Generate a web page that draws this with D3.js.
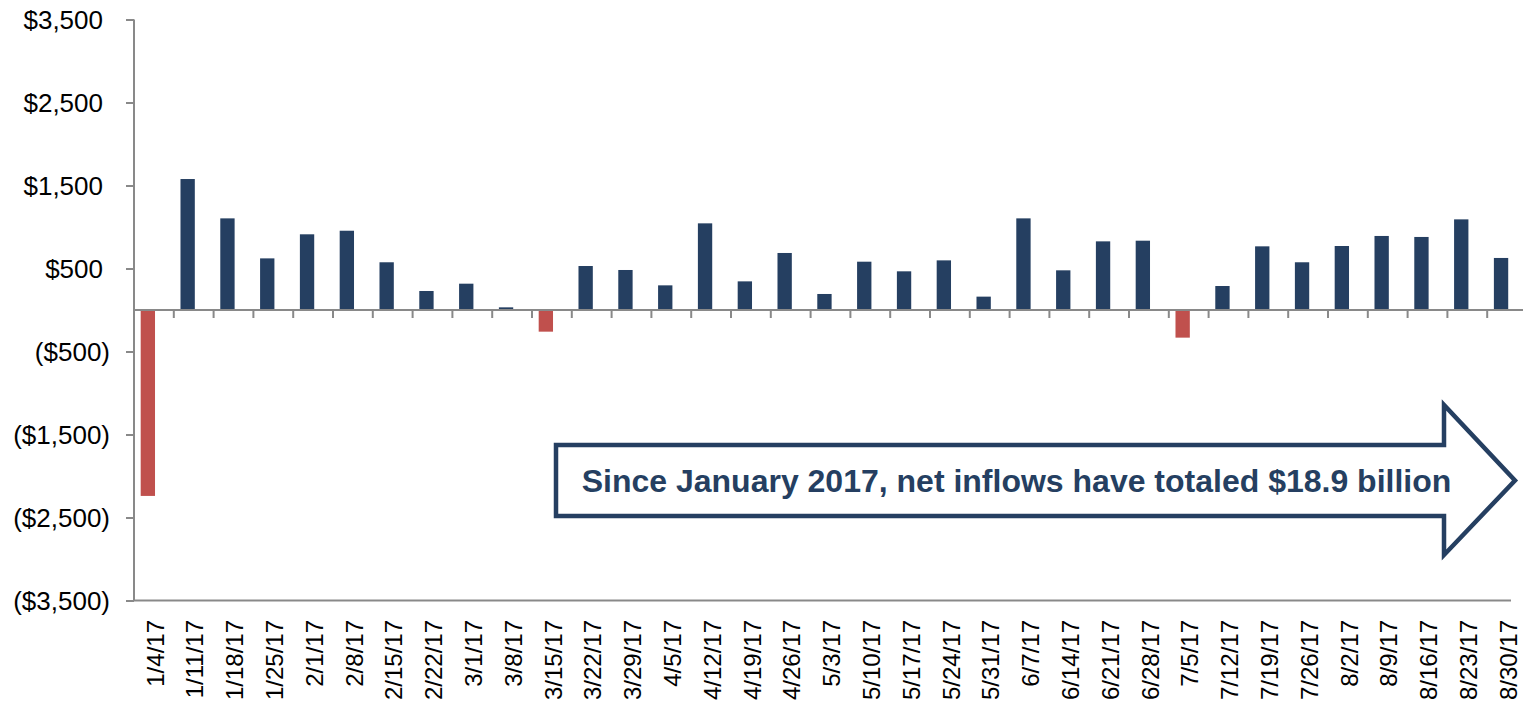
<!DOCTYPE html>
<html>
<head>
<meta charset="utf-8">
<script src="https://cdn.jsdelivr.net/npm/d3@7"></script>
<style>
  html, body { margin: 0; padding: 0; background: #fff; }
  svg { display: block; }
</style>
</head>
<body>
<svg id="chart" width="1523" height="708"></svg>
<script>
// ---- Data (weekly net flows, $ millions) ----
const categories = ["1/4/17","1/11/17","1/18/17","1/25/17","2/1/17","2/8/17","2/15/17","2/22/17","3/1/17","3/8/17",
  "3/15/17","3/22/17","3/29/17","4/5/17","4/12/17","4/19/17","4/26/17","5/3/17","5/10/17","5/17/17",
  "5/24/17","5/31/17","6/7/17","6/14/17","6/21/17","6/28/17","7/5/17","7/12/17","7/19/17","7/26/17",
  "8/2/17","8/9/17","8/16/17","8/23/17","8/30/17"];
const flows = [-2240, 1578, 1104, 622, 912, 955, 575, 229, 317, 32,
  -261, 530, 482, 297, 1044, 345, 687, 193, 582, 466,
  598, 161, 1104, 478, 827, 835, -333, 289, 767, 575,
  771, 892, 880, 1092, 627];
const yTicks = [3500, 2500, 1500, 500, -500, -1500, -2500, -3500];
const annotationText = "Since January 2017, net inflows have totaled $18.9 billion";

(function () {
// ---- Layout ----
const svg = d3.select("#chart");
const pLeft = 134, pRight = 1527, pTop = 19.5, pBottom = 600.5;
const navy = "#253F61", red = "#C0504D", grey = "#898989";
const font = "Arial, 'Liberation Sans', Helvetica, sans-serif";

const x = d3.scaleBand().domain(categories).range([pLeft, pRight]).padding(0);
const y = d3.scaleLinear().domain([-3500, 3500]).range([pBottom, pTop]);
const step = x.step();

// Bars
svg.append("g").selectAll("rect").data(flows).join("rect")
  .attr("x", (d, i) => x(categories[i]) + step * 0.168)
  .attr("width", step * 0.36)
  .attr("y", d => y(Math.max(0, d)))
  .attr("height", d => Math.abs(y(d) - y(0)))
  .attr("fill", d => d < 0 ? red : navy);

// Y axis
const fmt = v => v < 0 ? "($" + d3.format(",")(-v) + ")" : "$" + d3.format(",")(v);
const yAxis = svg.append("g").attr("transform", `translate(${pLeft},0)`)
  .call(d3.axisLeft(y).tickValues(yTicks).tickSize(8).tickPadding(0).tickFormat(fmt));
yAxis.select(".domain").attr("stroke", grey).attr("stroke-width", 2)
  .attr("d", `M0,${pTop}V${pBottom}`);
yAxis.selectAll(".tick line").attr("stroke", grey).attr("stroke-width", 2);
yAxis.selectAll(".tick text")
  .attr("x", d => d < 0 ? -24 : -31)
  .attr("dy", "0.34em")
  .attr("fill", "#000")
  .style("font-family", font).style("font-size", "26px");

// Bottom border line
svg.append("line").attr("x1", pLeft).attr("x2", 1511).attr("y1", pBottom).attr("y2", pBottom)
  .attr("stroke", grey).attr("stroke-width", 2);

// Zero axis with category boundary ticks
svg.append("line").attr("x1", pLeft).attr("x2", pRight).attr("y1", y(0)).attr("y2", y(0))
  .attr("stroke", grey).attr("stroke-width", 2);
svg.append("g").selectAll("line").data(categories.slice(1)).join("line")
  .attr("x1", d => x(d)).attr("x2", d => x(d))
  .attr("y1", y(0)).attr("y2", y(0) + 8)
  .attr("stroke", grey).attr("stroke-width", 2);

// X labels (rotated)
svg.append("g").selectAll("text").data(categories).join("text")
  .attr("transform", d => `translate(${x(d) + step / 2 + 1},620) rotate(-90)`)
  .attr("text-anchor", "end")
  .attr("dy", "0.36em")
  .style("font-family", font).style("font-size", "24px")
  .attr("fill", "#000")
  .text(d => d);

// Annotation arrow
const ax0 = 556, ax1 = 1444, tipX = 1515, bodyTop = 445, bodyBot = 516, headTop = 405, headBot = 555;
const midY = (bodyTop + bodyBot) / 2;
svg.append("path")
  .attr("d", `M${ax0},${bodyTop}H${ax1}V${headTop}L${tipX},${midY}L${ax1},${headBot}V${bodyBot}H${ax0}Z`)
  .attr("fill", "#fff").attr("stroke", navy).attr("stroke-width", 4.5)
  .attr("stroke-linejoin", "miter");
svg.append("text")
  .attr("x", 1016.5).attr("y", 491.5)
  .attr("text-anchor", "middle")
  .style("font-family", font).style("font-size", "32px").style("font-weight", "bold")
  .attr("fill", navy)
  .text(annotationText);
})();
</script>
</body>
</html>
